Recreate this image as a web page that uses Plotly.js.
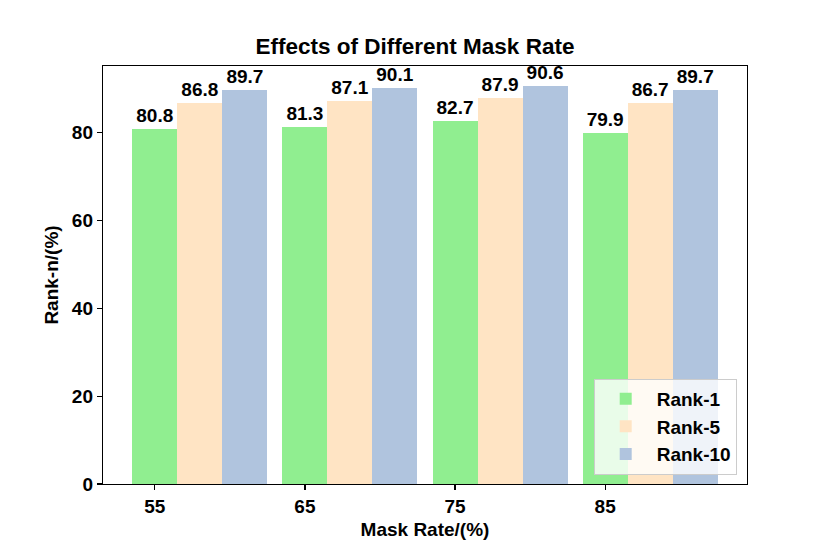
<!DOCTYPE html>
<html>
<head>
<meta charset="utf-8">
<script src="https://cdn.plot.ly/plotly-3.0.1.min.js"></script>
<style>
  html, body { margin: 0; padding: 0; background: #fff; }
  #chart { width: 830px; height: 554px; }
</style>
</head>
<body>
<div id="chart"></div>
<script>
var maskRates = ['55', '65', '75', '85'];
var rank1 = [80.8, 81.3, 82.7, 79.9];
var rank5 = [86.8, 87.1, 87.9, 86.7];
var rank10 = [89.7, 90.1, 90.6, 89.7];

var barWidth = 0.3;
var font = 'Liberation Sans, Arial, sans-serif';
var fs = 19;

function makeTrace(values, shift, name, color) {
    return {
        type: 'bar',
        x: values.map(function (v, i) { return i + shift; }),
        y: values,
        width: barWidth,
        name: name,
        marker: {color: color, line: {width: 0}},
        text: values.map(function (v) { return '<b>' + v.toFixed(1) + '</b>'; }),
        textposition: 'outside',
        textfont: {family: font, size: fs, color: '#000'},
        cliponaxis: false,
        hoverinfo: 'x+y'
    };
}

var data = [
    makeTrace(rank1, 0, '<b>Rank-1</b>', '#90EE90'),
    makeTrace(rank5, barWidth, '<b>Rank-5</b>', '#FFE4C4'),
    makeTrace(rank10, barWidth * 2, '<b>Rank-10</b>', '#B0C4DE')
];

var axisCommon = {
    tickfont: {family: font, size: fs, color: '#000'},
    ticks: 'outside',
    ticklen: 5,
    tickwidth: 1.2,
    tickcolor: '#000',
    showline: true,
    linecolor: '#000',
    linewidth: 1.2,
    mirror: true,
    showgrid: false,
    zeroline: false
};

var layout = {
    width: 830,
    height: 554,
    margin: {l: 103, r: 83, t: 66, b: 70, pad: 0},
    paper_bgcolor: '#fff',
    plot_bgcolor: '#fff',
    font: {family: font, color: '#000'},
    title: {
        text: '<b>Effects of Different Mask Rate</b>',
        font: {family: font, size: 22.5, color: '#000'},
        x: 0.5,
        xanchor: 'center',
        y: 0.917,
        yanchor: 'middle'
    },
    xaxis: Object.assign({}, axisCommon, {
        range: [-0.345, 3.945],
        tickvals: maskRates.map(function (m, i) { return i; }),
        ticktext: maskRates.map(function (m) { return '<b>' + m + '</b>'; }),
        title: {text: '<b>Mask Rate/(%)</b>', font: {family: font, size: fs, color: '#000'}, standoff: 6}
    }),
    yaxis: Object.assign({}, axisCommon, {
        range: [0, 95.13],
        tickvals: [0, 20, 40, 60, 80],
        ticktext: ['<b>0</b>', '<b>20</b>', '<b>40</b>', '<b>60</b>', '<b>80</b>'],
        title: {text: '<b>Rank-n/(%)</b>', font: {family: font, size: fs, color: '#000'}, standoff: 8}
    }),
    showlegend: true,
    legend: {
        x: 0.984,
        xanchor: 'right',
        y: 0.022,
        yanchor: 'bottom',
        bgcolor: 'rgba(255,255,255,0.8)',
        bordercolor: '#cccccc',
        borderwidth: 1,
        font: {family: font, size: fs, color: '#000'},
        itemwidth: 52
    },
    bargap: 0
};

Plotly.newPlot('chart', data, layout, {displayModeBar: false, staticPlot: true});
</script>
</body>
</html>
